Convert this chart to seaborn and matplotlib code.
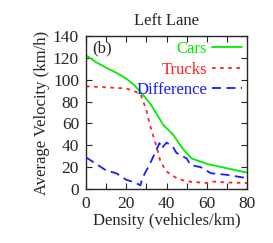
import pandas as pd
import matplotlib
matplotlib.use("Agg")
import matplotlib.pyplot as plt
from matplotlib.ticker import MultipleLocator
import seaborn as sns

# valores
cars_x = [0.7, 5, 10, 15, 20, 24, 27, 32, 38.4, 43.4, 48, 52.5, 60, 70, 80]
cars_y = [121.5, 116, 111, 106.5, 101, 95, 89, 78, 58.6, 49.5, 37, 28, 23, 19, 15]

trucks_x = [0, 20, 27, 30, 32, 35, 37, 40, 45, 50, 60, 62, 70, 80]
trucks_y = [94, 92, 87.5, 72, 57, 39, 25, 16, 10, 7, 5.5, 7, 6, 5.5]

diff_x = [0, 10, 15, 20, 25, 27, 28, 32, 36.5, 37.5, 40, 43, 45, 50, 52, 57, 62, 70, 80]
diff_y = [29, 17, 14.5, 8.5, 5.5, 3.3, 10, 24, 42, 37, 42.5, 39, 33, 28, 22, 20, 14.5, 13, 10]

sns.set_style("ticks")
plt.rcParams["font.family"] = ["Liberation Serif", "DejaVu Serif"]
plt.rcParams["font.size"] = 12

fig = plt.figure(figsize=(2.73, 2.43), dpi=100)
ax = fig.add_axes([0.315, 0.222, 0.59, 0.63])

sns.lineplot(x=cars_x, y=cars_y, ax=ax, color="#00ee00", lw=1.3, label="Cars")
sns.lineplot(x=trucks_x, y=trucks_y, ax=ax, color="#ff2020", lw=1.3, label="Trucks",
             linestyle=(0, (2, 2.5)))
sns.lineplot(x=diff_x, y=diff_y, ax=ax, color="#1a1aff", lw=1.3, label="Difference",
             linestyle=(0, (5, 3)))

ax.set_xlim(0, 80)
ax.set_ylim(0, 140)
ax.xaxis.set_major_locator(MultipleLocator(20))
ax.xaxis.set_minor_locator(MultipleLocator(10))
ax.yaxis.set_major_locator(MultipleLocator(20))
ax.tick_params(which="both", direction="in", top=True, right=True, length=4, width=0.8,
               labelsize=12.5, pad=5)
for s in ax.spines.values():
    s.set_linewidth(1.0)

ax.set_title("Left Lane", fontsize=12, pad=8)
ax.set_xlabel("Density (vehicles/km)", fontsize=12, labelpad=1)
ax.set_ylabel("Average Velocity (km/h)", fontsize=12, labelpad=2)
ax.text(0.04, 0.97, "(b)", transform=ax.transAxes, ha="left", va="top", fontsize=12)

leg = ax.legend(loc="upper right", frameon=False, markerfirst=False, fontsize=12,
                handlelength=1.8, handletextpad=0.3, labelspacing=0.28,
                borderaxespad=0.1, borderpad=0.2)
for t, c in zip(leg.get_texts(), ["#00ee00", "#ff2020", "#1a1aff"]):
    t.set_color(c)

fig.savefig("out.png", dpi=100)
